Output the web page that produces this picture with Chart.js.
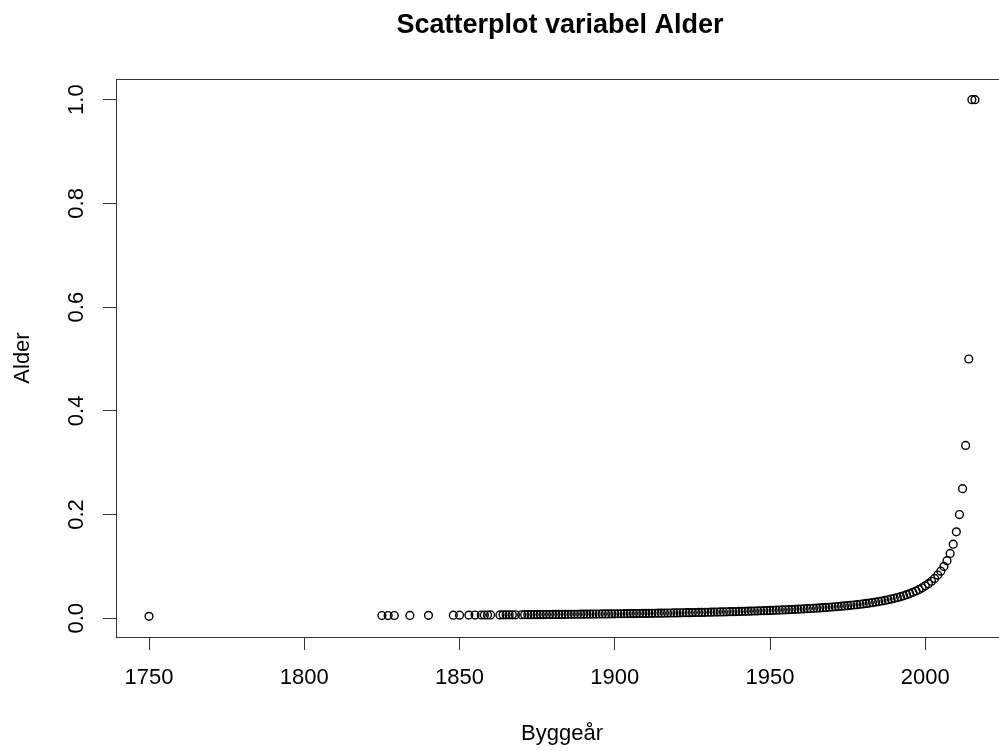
<!DOCTYPE html>
<html>
<head>
<meta charset="utf-8">
<script src="https://cdn.jsdelivr.net/npm/chart.js@4/dist/chart.umd.min.js"></script>
<style>
  html, body { margin: 0; padding: 0; background: #fff; overflow: hidden; }
  #wrap { width: 999px; height: 751px; overflow: hidden; position: relative; }
  canvas { display: block; }
</style>
</head>
<body>
<div id="wrap"><canvas id="c" width="1030" height="751" style="width:1030px;height:751px"></canvas></div>
<script>
const chartTitle = "Scatterplot variabel Alder";
const xTitle = "Byggeår";
const yTitle = "Alder";
const xTicks = [1750, 1800, 1850, 1900, 1950, 2000];
const yTicks = [0.0, 0.2, 0.4, 0.6, 0.8, 1.0];

const years = [
  1750, 1825, 1827, 1829, 1834, 1840, 1848, 1850, 1853, 1855,
  1857, 1858, 1859, 1860, 1863, 1864, 1865, 1866, 1867, 1868,
  1870, 1871, 1872, 1873, 1874, 1875, 1876, 1877, 1878, 1879,
  1880, 1881, 1882, 1883, 1884, 1885, 1886, 1887, 1888, 1889,
  1890, 1891, 1892, 1893, 1894, 1895, 1896, 1897, 1898, 1899,
  1900, 1901, 1902, 1903, 1904, 1905, 1906, 1907, 1908, 1909,
  1910, 1911, 1912, 1913, 1914, 1915, 1916, 1917, 1918, 1919,
  1920, 1921, 1922, 1923, 1924, 1925, 1926, 1927, 1928, 1929,
  1930, 1931, 1932, 1933, 1934, 1935, 1936, 1937, 1938, 1939,
  1940, 1941, 1942, 1943, 1944, 1945, 1946, 1947, 1948, 1949,
  1950, 1951, 1952, 1953, 1954, 1955, 1956, 1957, 1958, 1959,
  1960, 1961, 1962, 1963, 1964, 1965, 1966, 1967, 1968, 1969,
  1970, 1971, 1972, 1973, 1974, 1975, 1976, 1977, 1978, 1979,
  1980, 1981, 1982, 1983, 1984, 1985, 1986, 1987, 1988, 1989,
  1990, 1991, 1992, 1993, 1994, 1995, 1996, 1997, 1998, 1999,
  2000, 2001, 2002, 2003, 2004, 2005, 2006, 2007, 2008, 2009,
  2010, 2011, 2012, 2013, 2014, 2015, 2016
];

const alder = [
  0.00376, 0.00524, 0.00529, 0.00535, 0.00549, 0.00568, 0.00595, 0.00602, 0.00613, 0.00621,
  0.00629, 0.00633, 0.00637, 0.00641, 0.00654, 0.00658, 0.00662, 0.00667, 0.00671, 0.00676,
  0.00685, 0.00690, 0.00694, 0.00699, 0.00704, 0.00709, 0.00714, 0.00719, 0.00725, 0.00730,
  0.00735, 0.00741, 0.00746, 0.00752, 0.00758, 0.00763, 0.00769, 0.00775, 0.00781, 0.00787,
  0.00794, 0.00800, 0.00806, 0.00813, 0.00820, 0.00826, 0.00833, 0.00840, 0.00847, 0.00855,
  0.00862, 0.00870, 0.00877, 0.00885, 0.00893, 0.00901, 0.00909, 0.00917, 0.00926, 0.00935,
  0.00943, 0.00952, 0.00962, 0.00971, 0.00980, 0.00990, 0.01000, 0.01010, 0.01020, 0.01031,
  0.01042, 0.01053, 0.01064, 0.01075, 0.01087, 0.01099, 0.01111, 0.01124, 0.01136, 0.01149,
  0.01163, 0.01176, 0.01190, 0.01205, 0.01220, 0.01235, 0.01250, 0.01266, 0.01282, 0.01299,
  0.01316, 0.01333, 0.01351, 0.01370, 0.01389, 0.01408, 0.01429, 0.01449, 0.01471, 0.01493,
  0.01515, 0.01538, 0.01563, 0.01587, 0.01613, 0.01639, 0.01667, 0.01695, 0.01724, 0.01754,
  0.01786, 0.01818, 0.01852, 0.01887, 0.01923, 0.01961, 0.02000, 0.02041, 0.02083, 0.02128,
  0.02174, 0.02222, 0.02273, 0.02326, 0.02381, 0.02439, 0.02500, 0.02564, 0.02632, 0.02703,
  0.02778, 0.02857, 0.02941, 0.03030, 0.03125, 0.03226, 0.03333, 0.03448, 0.03571, 0.03704,
  0.03846, 0.04000, 0.04167, 0.04348, 0.04545, 0.04762, 0.05000, 0.05263, 0.05556, 0.05882,
  0.06250, 0.06667, 0.07143, 0.07692, 0.08333, 0.09091, 0.10000, 0.11111, 0.12500, 0.14286,
  0.16667, 0.20000, 0.25000, 0.33333, 0.50000, 1.00000, 1.00000
];

const points = years.map((y, i) => ({ x: y, y: alder[i] }));

// R-style axis ranges: data range extended by 4% on each side
const xMinD = Math.min(...years), xMaxD = Math.max(...years);
const yMinD = Math.min(...alder), yMaxD = Math.max(...alder);
const xPad = (xMaxD - xMinD) * 0.04, yPad = (yMaxD - yMinD) * 0.04;

const FONT = "'Liberation Sans', Arial, Helvetica, sans-serif";
const AXC = '#333333';

const boxPlugin = {
  id: 'rbox',
  afterDraw(chart) {
    const { ctx, chartArea: a } = chart;
    const l = Math.round(a.left) + 0.5, t = Math.round(a.top) + 0.5;
    const r = Math.round(a.right) + 0.5, b = Math.round(a.bottom) + 0.5;
    ctx.save();
    ctx.strokeStyle = AXC;
    ctx.lineWidth = 1;
    ctx.strokeRect(l, t, r - l, b - t);
    ctx.restore();
    // main title, centred over the plot region (as R does)
    ctx.save();
    ctx.fillStyle = '#000';
    ctx.font = "bold 27px " + FONT;
    ctx.textAlign = 'center';
    ctx.textBaseline = 'alphabetic';
    ctx.fillText(chartTitle, (a.left + a.right) / 2 - 2, 33);
    ctx.restore();
  }
};

new Chart(document.getElementById('c'), {
  type: 'scatter',
  data: {
    datasets: [{
      data: points,
      pointStyle: 'circle',
      pointRadius: 3.9,
      pointBorderWidth: 1.4,
      pointBorderColor: '#000',
      pointBackgroundColor: 'rgba(0,0,0,0)',
      pointHoverRadius: 3.9
    }]
  },
  options: {
    responsive: false,
    devicePixelRatio: 1,
    animation: false,
    events: [],
    layout: { padding: { left: 0, right: 22, top: 79, bottom: 0 } },
    plugins: {
      legend: { display: false },
      tooltip: { enabled: false },
      title: { display: false }
    },
    scales: {
      x: {
        type: 'linear',
        min: xMinD - xPad,
        max: xMaxD + xPad,
        afterFit(s) { s.height = 114; },
        afterBuildTicks(s) { s.ticks = xTicks.map(v => ({ value: v })); },
        grid: { display: true, drawOnChartArea: false, drawTicks: true, tickLength: 13, color: AXC, lineWidth: 1 },
        border: { display: false },
        ticks: {
          color: '#000',
          font: { family: FONT, size: 22 },
          padding: 15,
          maxRotation: 0,
          autoSkip: false,
          callback: v => String(v)
        },
        title: {
          display: true,
          text: xTitle,
          color: '#000',
          font: { family: FONT, size: 22 },
          padding: { top: 0, bottom: 4 }
        }
      },
      y: {
        type: 'linear',
        min: yMinD - yPad,
        max: yMaxD + yPad,
        afterFit(s) { s.width = 116; },
        afterBuildTicks(s) { s.ticks = yTicks.map(v => ({ value: v })); },
        grid: { display: true, drawOnChartArea: false, drawTicks: true, tickLength: 13, color: AXC, lineWidth: 1 },
        border: { display: false },
        ticks: {
          color: '#000',
          font: { family: FONT, size: 22 },
          padding: 11,
          minRotation: 90,
          maxRotation: 90,
          crossAlign: 'center',
          autoSkip: false,
          callback: v => Number(v).toFixed(1)
        },
        title: {
          display: true,
          text: yTitle,
          color: '#000',
          font: { family: FONT, size: 22 },
          padding: { top: 10, bottom: 0 }
        }
      }
    }
  },
  plugins: [boxPlugin]
});
</script>
</body>
</html>
